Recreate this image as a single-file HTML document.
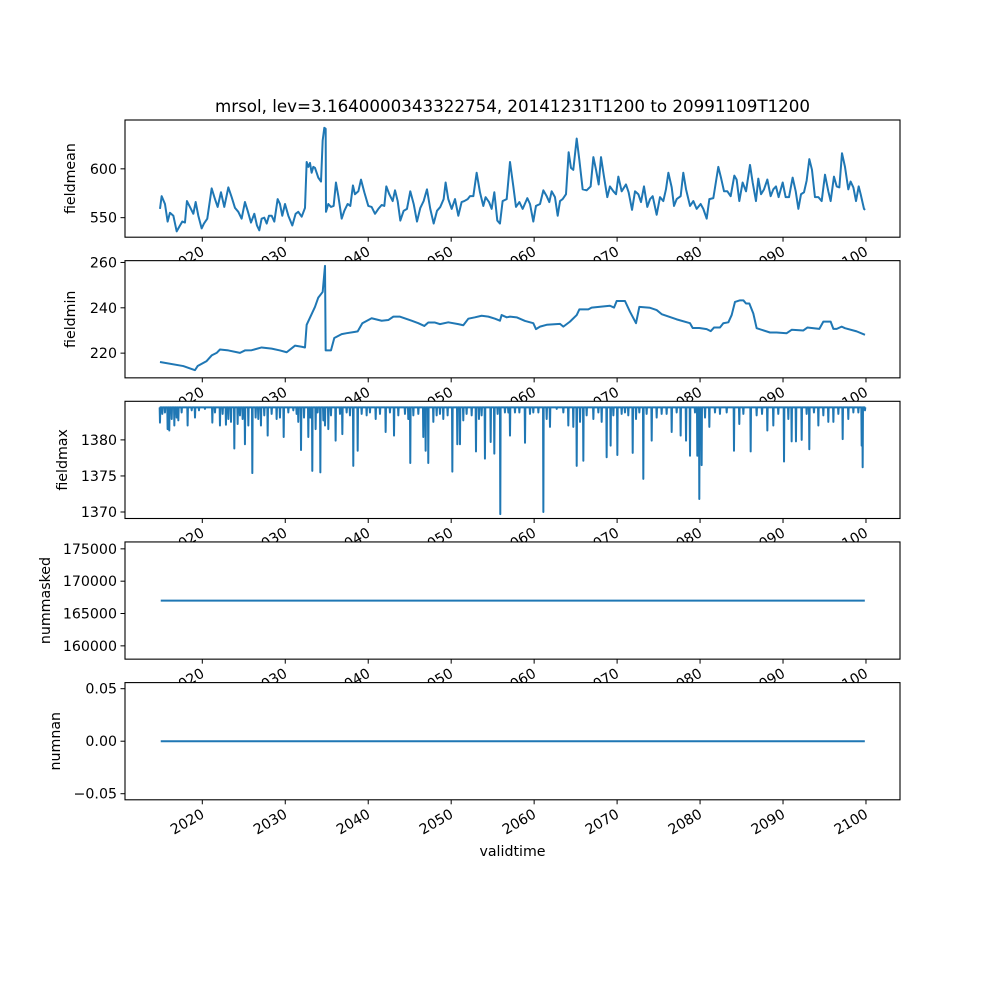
<!DOCTYPE html>
<html><head><meta charset="utf-8"><style>
html,body{margin:0;padding:0;background:#fff;}
svg{display:block;font-family:"DejaVu Sans","Liberation Sans",sans-serif;}
</style></head><body>
<svg id="fig" width="1000" height="1000" xmlns="http://www.w3.org/2000/svg">
<rect width="1000" height="1000" fill="#fff"/>
<text x="512.5" y="112" text-anchor="middle" font-size="16.7">mrsol, lev=3.1640000343322754, 20141231T1200 to 20991109T1200</text>
<text x="512.5" y="856" text-anchor="middle" font-size="14.2">validtime</text>
</svg>
<script>
// fieldmean
const meanT=[2014.90,2015.10,2015.50,2015.82,2016.10,2016.51,2016.91,2017.31,2017.59,2017.91,2018.15,2018.51,2018.92,2019.20,2019.52,2019.92,2020.20,2020.60,2021.13,2021.53,2021.85,2022.25,2022.65,2023.14,2023.54,2023.94,2024.34,2024.74,2025.14,2025.47,2025.87,2026.27,2026.59,2026.87,2027.15,2027.47,2027.76,2028.04,2028.36,2028.68,2029.08,2029.36,2029.64,2029.97,2030.37,2030.85,2031.25,2031.57,2031.98,2032.38,2032.58,2032.78,2032.98,2033.18,2033.38,2033.58,2033.78,2033.98,2034.31,2034.51,2034.71,2034.87,2034.91,2035.19,2035.51,2035.83,2036.11,2036.40,2036.80,2037.12,2037.52,2037.84,2038.16,2038.40,2038.81,2039.13,2039.53,2040.01,2040.41,2040.82,2041.22,2041.62,2041.94,2042.18,2042.54,2042.95,2043.23,2043.55,2043.87,2044.27,2044.67,2045.07,2045.48,2045.88,2046.28,2046.68,2047.08,2047.48,2047.89,2048.29,2048.69,2049.09,2049.33,2049.65,2050.06,2050.46,2050.86,2051.26,2051.58,2051.99,2052.27,2052.67,2053.07,2053.47,2053.87,2054.15,2054.56,2054.88,2055.20,2055.56,2055.88,2056.20,2056.69,
2057.09,2057.49,2057.81,2058.22,2058.62,2059.18,2059.50,2059.90,2060.22,2060.71,2061.11,2061.51,2061.83,2062.11,2062.51,2062.84,2063.12,2063.44,2063.84,2064.16,2064.44,2064.72,2065.13,2065.45,2065.85,2066.33,2066.81,2067.14,2067.46,2067.78,2068.06,2068.42,2068.82,2069.14,2069.55,2069.87,2070.15,2070.55,2071.07,2071.39,2071.80,2072.16,2072.56,2072.88,2073.24,2073.64,2073.97,2074.29,2074.77,2075.17,2075.57,2075.89,2076.18,2076.58,2076.86,2077.18,2077.66,2077.98,2078.31,2078.79,2079.19,2079.59,2080.07,2080.39,2080.80,2081.12,2081.60,2082.20,2082.52,2082.89,2083.29,2083.69,2084.13,2084.41,2084.73,2085.13,2085.54,2086.02,2086.34,2086.74,2087.02,2087.35,2087.71,2088.11,2088.51,2088.83,2089.15,2089.47,2089.96,2090.32,2090.72,2091.16,2091.53,2091.85,2092.17,2092.53,2092.85,2093.17,2093.49,2093.85,2094.26,2094.66,2095.06,2095.46,2095.74,2096.14,2096.47,2096.79,2097.11,2097.47,2097.87,2098.15,2098.48,2098.80,2099.12,2099.36,2099.76,2099.90];
const meanV=[559,572,564,546,555,552,536,542,546,545,567,561,554,566,552,539,544,549,580,569,561,576,561,581,571,560,556,549,566,557,545,554,542,537,549,550,544,552,552,546,569,564,552,564,552,542,554,556,551,560,607,602,606,596,602,601,596,591,587,629,642,641,556,564,561,562,586,572,549,557,564,562,583,574,577,589,576,562,561,554,559,563,562,582,574,567,578,567,547,557,559,577,564,546,560,567,579,559,544,557,561,569,586,569,559,569,552,566,567,569,572,572,596,576,562,571,566,559,576,547,544,567,569,
607,582,561,566,559,570,564,546,562,564,578,572,566,577,571,552,567,569,574,617,601,599,631,609,579,578,582,612,599,584,612,592,571,582,577,574,592,577,584,576,558,577,574,566,582,561,569,572,553,571,567,579,596,581,562,569,572,596,579,562,567,559,564,559,549,569,570,602,591,577,577,572,593,589,567,586,577,604,586,567,590,574,579,589,572,579,582,571,586,571,571,591,577,559,574,576,588,610,599,571,571,567,594,577,567,592,582,581,616,602,579,587,581,567,582,574,559,558];
// fieldmin
const minT=[2014.90,2017.71,2019.12,2019.44,2020.52,2021.13,2021.73,2022.13,2023.14,2024.54,2025.14,2025.95,2027.15,2028.36,2029.36,2030.17,2031.17,2031.98,2032.38,2032.58,2033.58,2033.98,2034.51,2034.79,2034.87,2035.51,2035.91,2036.80,2037.40,2038.40,2038.73,2039.29,2040.41,2041.62,2042.42,2043.03,2043.83,2045.23,2046.04,2046.76,2047.24,2048.05,2048.65,2049.65,2050.86,2051.46,2052.07,2052.87,2053.67,2054.48,2055.28,2055.88,2056.08,2056.69,
2057.09,2057.89,2058.90,2059.90,2060.22,2060.71,2061.51,2063.12,2063.52,2064.32,2065.13,2065.45,2066.53,2066.93,2069.14,2069.63,2069.95,2070.95,2071.55,2072.28,2072.68,2073.97,2074.77,2075.37,2077.18,2078.79,2079.11,2079.91,2080.80,2081.28,2081.68,2082.40,2082.80,2083.41,2083.81,2084.21,2084.81,2085.22,2085.54,2085.94,2086.42,2086.82,2088.43,2089.23,2090.44,2091.04,2092.45,2092.93,2094.38,2094.86,2095.74,2096.07,2096.47,2097.07,2097.47,2098.88,2099.88];
const minV=[216.1,214.3,212.5,214.3,216.5,219.0,220.1,221.6,221.2,220.1,221.2,221.3,222.5,222.0,221.2,220.4,223.3,222.8,222.5,232.5,240.4,244.5,247.0,258.5,221.2,221.2,226.7,228.4,228.8,229.4,229.6,233.2,235.4,234.3,234.6,236.1,236.1,234.3,233.2,232.0,233.5,233.5,232.8,233.6,232.8,232.3,235.2,235.8,236.5,236.1,235.2,234.3,236.8,235.8,
236.1,235.8,234.2,233.2,230.6,231.7,232.5,232.9,231.7,233.9,236.8,239.3,239.3,240.1,240.9,240.1,243.0,243.0,238.3,233.2,240.4,240.0,239.0,237.2,234.9,233.2,231.1,231.1,230.6,229.7,231.3,231.3,233.2,233.6,236.8,242.6,243.3,243.3,241.9,241.9,237.5,231.0,229.1,229.1,228.8,230.3,230.0,231.3,230.7,233.9,233.9,230.7,230.7,231.7,231.0,229.6,228.1];
// fieldmax: baseline plus dips
const maxBase=1384.5;
const maxT=[2014.90,2015.18,2015.50,2015.82,2016.02,2016.31,2016.63,2016.91,2017.11,2017.51,2018.23,2018.72,2019.12,2019.60,2020.32,2021.21,2021.53,2022.13,2022.45,2022.85,2023.14,2023.46,2023.86,2024.26,2024.54,2024.86,2025.14,2025.55,2026.03,2026.43,2026.75,2027.07,2027.47,2027.88,2028.36,2028.96,2029.36,2029.81,2030.37,2030.97,2031.37,2031.57,2031.90,2032.26,2032.78,2033.02,2033.26,2033.66,2033.90,2034.23,2034.59,2034.79,2035.19,2035.51,2036.07,2036.60,2036.88,2037.40,2037.80,2038.20,2038.73,2039.21,2039.81,2040.21,2040.90,2041.42,2042.10,2042.62,2043.11,2043.63,2044.43,2044.83,2045.07,2045.44,2046.04,2046.64,2046.92,2047.24,2047.85,2048.25,2048.65,2049.05,2049.57,2050.14,2050.74,2051.06,2051.46,2051.86,2052.47,2052.99,2053.35,2053.67,2054.07,2054.76,2055.20,2055.60,2055.92,2056.48,2056.89,
2057.09,2057.69,2058.22,2058.90,2059.50,2059.90,2060.51,2061.11,2061.51,2061.91,2062.72,2063.52,2064.12,2064.72,2065.13,2065.53,2065.93,2066.33,2067.14,2067.74,2068.14,2068.74,2069.22,2069.55,2070.03,2070.55,2070.95,2071.35,2071.88,2072.28,2072.68,2073.16,2073.56,2074.17,2074.77,2075.37,2075.97,2076.58,2077.18,2077.66,2078.31,2078.79,2079.39,2079.67,2079.91,2080.19,2080.60,2081.12,2081.80,2082.40,2083.21,2084.09,2084.73,2085.22,2086.10,2086.82,2087.47,2088.11,2088.83,2089.43,2090.12,2090.64,2091.04,2091.56,2092.25,2092.85,2093.17,2093.73,2094.26,2094.86,2095.46,2096.07,2096.67,2097.19,2097.87,2098.48,2099.08,2099.48,2099.60,2099.88];
const maxV=[1382.4,1383.6,1383.8,1381.5,1381.3,1382.9,1382.0,1383.1,1382.7,1383.8,1382.0,1384.1,1383.1,1384.1,1384.3,1382.4,1383.8,1382.0,1383.6,1382.1,1382.9,1382.5,1378.8,1382.2,1383.4,1382.9,1379.4,1382.0,1375.4,1383.1,1382.9,1382.0,1383.4,1380.6,1383.6,1382.9,1383.1,1380.4,1383.8,1384.1,1383.6,1382.5,1378.6,1383.1,1380.4,1383.1,1375.7,1381.5,1383.8,1375.5,1382.7,1382.0,1381.5,1383.4,1379.9,1383.6,1380.8,1383.8,1383.4,1376.4,1378.5,1383.6,1383.4,1383.8,1382.9,1383.6,1381.1,1383.8,1380.6,1383.4,1383.6,1382.9,1376.8,1383.4,1383.6,1380.4,1378.5,1376.8,1382.5,1383.4,1383.6,1382.9,1383.4,1375.6,1379.4,1379.4,1382.7,1383.6,1383.4,1378.4,1382.9,1383.4,1377.4,1379.7,1378.1,1383.6,1369.7,1383.8,1383.8,
1380.6,1383.8,1383.8,1379.6,1383.6,1383.8,1383.8,1370.0,1382.9,1381.8,1384.3,1383.8,1382.0,1381.8,1376.4,1382.5,1377.1,1383.4,1382.9,1383.8,1382.5,1377.6,1379.2,1383.4,1377.9,1383.6,1383.8,1383.4,1378.2,1382.9,1383.8,1374.6,1383.6,1379.9,1383.1,1383.6,1383.6,1381.1,1383.8,1380.6,1379.9,1377.8,1383.8,1377.8,1371.8,1376.5,1383.1,1381.8,1383.8,1383.6,1383.8,1378.5,1382.2,1383.6,1378.4,1383.4,1383.6,1381.3,1382.0,1383.6,1377.0,1382.9,1379.8,1379.8,1380.0,1383.6,1378.7,1383.8,1382.0,1383.4,1382.5,1382.5,1383.6,1380.1,1382.9,1383.8,1383.8,1379.2,1376.2,1384.1];
const maskedT=[2014.99,2099.86];
const maskedV=[167000,167000];
const nanT=[2014.99,2099.86];
const nanV=[0,0];
const xTickLabels=["2020","2030","2040","2050","2060","2070","2080","2090","2100"];
const xTickYears=[2020,2030,2040,2050,2060,2070,2080,2090,2100];

const NS="http://www.w3.org/2000/svg";
const svg=document.getElementById('fig');
const L=125,R=900,H=117.2,GAP=23.45,TOP=120;
const FS=14.2;
function xs(t){return 202.3+(t-2020)*8.296;}
function mk(tag,attrs,parent){const e=document.createElementNS(NS,tag);for(const k in attrs)e.setAttribute(k,attrs[k]);(parent||svg).appendChild(e);return e;}

const panels=[
 {name:'fieldmean',lab:'fieldmean',lx:75,lo:530,hi:650,ticks:[550,600],tl:['550','600']},
 {name:'fieldmin',lab:'fieldmin',lx:75,lo:209.1,hi:260.8,ticks:[220,240,260],tl:['220','240','260']},
 {name:'fieldmax',lab:'fieldmax',lx:67,lo:1369.1,hi:1385.35,ticks:[1370,1375,1380],tl:['1370','1375','1380']},
 {name:'nummasked',lab:'nummasked',lx:50,lo:157943,hi:176066,ticks:[160000,165000,170000,175000],tl:['160000','165000','170000','175000']},
 {name:'numnan',lab:'numnan',lx:60,lo:-0.0558,hi:0.0558,ticks:[-0.05,0,0.05],tl:['\u22120.05','0.00','0.05']}
];

function seriesFor(i){
 if(i===0)return[meanT,meanV];
 if(i===1)return[minT,minV];
 if(i===2){const t=[],v=[];for(let k=0;k<maxT.length;k++){t.push(maxT[k]-0.04);v.push(maxBase);t.push(maxT[k]);v.push(maxV[k]);t.push(maxT[k]+0.04);v.push(maxBase);}return[t,v];}
 if(i===3)return[maskedT,maskedV];
 return[nanT,nanV];
}

panels.forEach((p,i)=>{
 const top=TOP+i*(H+GAP),bot=top+H;
 const ys=v=>bot-(v-p.lo)/(p.hi-p.lo)*H;
 const g=mk('g',{});
 
 
 mk('rect',{x:L,y:top,width:R-L,height:H,fill:'#fff'},g);
 const [T,V]=seriesFor(i);
 let d='';
 for(let k=0;k<T.length;k++){d+=(k?'L':'M')+xs(T[k]).toFixed(2)+','+ys(V[k]).toFixed(2);}
 const path=mk('path',{d:d,fill:'none',stroke:'#1f77b4','stroke-width':2,'stroke-linejoin':'round'},g);
 
 
 mk('rect',{x:L,y:top,width:R-L,height:H,fill:'none',stroke:'#000','stroke-width':1.1},g);
 p.ticks.forEach((tv,j)=>{
  const y=ys(tv);
  mk('line',{x1:L-4.5,x2:L,y1:y,y2:y,stroke:'#000','stroke-width':1},g);
  const tx=mk('text',{x:L-8,y:y+5,'text-anchor':'end','font-size':FS},g);
  tx.textContent=p.tl[j];
  
  
 });
 xTickYears.forEach((yr,j)=>{
  const x=xs(yr);
  mk('line',{x1:x,x2:x,y1:bot,y2:bot+4.5,stroke:'#000','stroke-width':1},g);
  const tx=mk('text',{x:x+3,y:bot+17,'text-anchor':'end','font-size':FS,transform:'rotate(-30 '+(x+3)+' '+(bot+17)+')'},g);
  tx.textContent=xTickLabels[j];
  
  
 });
 const yl=mk('text',{x:p.lx,y:(top+bot)/2,'text-anchor':'middle','font-size':FS,transform:'rotate(-90 '+p.lx+' '+((top+bot)/2)+')'},g);
 yl.textContent=p.lab;
 
 
});
</script>
</body></html>
